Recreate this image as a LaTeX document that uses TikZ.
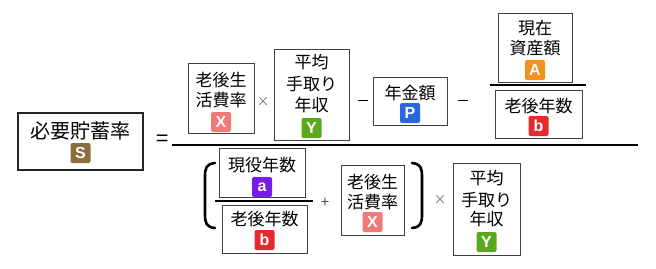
\documentclass[tikz,border=0pt]{standalone}
\usepackage{fontspec}
\newfontfamily\jpfont{Noto Sans CJK JP}
\newfontfamily\badgefont{Liberation Sans}
\usetikzlibrary{calc}

\definecolor{colS}{HTML}{8C6D3F}
\definecolor{colX}{HTML}{F07A78}
\definecolor{colY}{HTML}{5BA81C}
\definecolor{colP}{HTML}{2A66E0}
\definecolor{colA}{HTML}{F3921B}
\definecolor{colb}{HTML}{E52A2F}
\definecolor{cola}{HTML}{7A1CE8}

\tikzset{
  termbox/.style={draw=black!75, line width=0.9pt, fill=white, inner sep=0pt},
  jp/.style={font=\jpfont\fontsize{17}{20}\selectfont, inner sep=0pt},
  badge/.style={fill=#1, rounded corners=2pt, minimum width=20pt, minimum height=20pt,
    inner sep=0pt, text=white, font=\badgefont\bfseries\fontsize{16}{16}\selectfont},
  op/.style={font=\jpfont\fontsize{18}{18}\selectfont, inner sep=0pt},
  smallop/.style={font=\jpfont\fontsize{13}{13}\selectfont, text=black!55, inner sep=0pt},
  minusop/.style={line width=1pt},
  bar/.style={line width=1.5pt},
  mainbar/.style={line width=2pt},
  paren/.style={line width=2.6pt, line cap=round}
}

\begin{document}
\begin{tikzpicture}[x=1pt,y=-1pt]
  \useasboundingbox (0,0) rectangle (656,268);

  % left hand side
  \node[termbox, line width=2pt, draw=black!85, minimum width=125pt, minimum height=57pt] (sbox) at (80.5,141.5) {};
  \node[jp, font=\jpfont\fontsize{20}{22}\selectfont] (stext) at (80.5,131) {必要貯蓄率};
  \node[badge=colS] (sbadge) at (80.5,153) {S};
  \node[op, font=\jpfont\fontsize{22}{22}\selectfont] (eq) at (163,141) {=};

  % main fraction bar
  \coordinate (mainL) at (172,145);
  \coordinate (mainR) at (638,145);
  \draw[mainbar] (mainL) -- (mainR);

  % numerator
  \node[termbox, minimum width=66pt, minimum height=70pt] (xbox) at (221,98) {};
  \node[jp] (x1) at (221,80) {老後生};
  \node[jp] (x2) at (221,100) {活費率};
  \node[badge=colX] (xbadge) at (221,122) {X};

  \node[smallop] (times1) at (263,102) {×};

  \node[termbox, minimum width=75pt, minimum height=91pt] (ybox) at (311.5,94.5) {};
  \node[jp] (y1) at (311.5,62) {平均};
  \node[jp] (y2) at (311.5,84) {手取り};
  \node[jp] (y3) at (311.5,105) {年収};
  \node[badge=colY] (ybadge) at (311.5,128) {Y};

  \coordinate (m1L) at (358,100);
  \coordinate (m1R) at (368,100);
  \draw[minusop] (m1L) -- (m1R);

  \node[termbox, minimum width=74pt, minimum height=48pt] (pbox) at (410,101) {};
  \node[jp] (p1) at (410,93) {年金額};
  \node[badge=colP] (pbadge) at (410,113) {P};

  \coordinate (m2L) at (458,100);
  \coordinate (m2R) at (468,100);
  \draw[minusop] (m2L) -- (m2R);

  \node[termbox, minimum width=74pt, minimum height=69pt] (abox) at (535,47.5) {};
  \node[jp] (a1) at (535,28) {現在};
  \node[jp] (a2) at (535,48) {資産額};
  \node[badge=colA] (abadge) at (535,70) {A};

  \coordinate (abarL) at (490,85);
  \coordinate (abarR) at (586,85);
  \draw[bar] (abarL) -- (abarR);

  \node[termbox, minimum width=87pt, minimum height=48pt] (bbox1) at (538.5,114) {};
  \node[jp] (b1) at (538.5,106) {老後年数};
  \node[badge=colb] (bbadge1) at (538.5,126) {b};

  % denominator
  \coordinate (lpTop) at (215,163);
  \coordinate (lpBot) at (215,228);
  \draw[paren] (lpTop) .. controls (206,164) and (205,168) .. (205,177)
    -- (205,214) .. controls (205,223) and (206,227) .. (lpBot);

  \node[termbox, minimum width=86pt, minimum height=49pt] (rabox) at (262,172.5) {};
  \node[jp] (ra1) at (262,165) {現役年数};
  \node[badge=cola] (rabadge) at (262,187) {a};

  \coordinate (rbarL) at (215,201);
  \coordinate (rbarR) at (313,201);
  \draw[bar] (rbarL) -- (rbarR);

  \node[termbox, minimum width=85pt, minimum height=48pt] (bbox2) at (264.5,229) {};
  \node[jp] (b2) at (264.5,219) {老後年数};
  \node[badge=colb] (bbadge2) at (264.5,240) {b};

  \node[smallop, text=black!70, font=\jpfont\fontsize{15}{15}\selectfont] (plus) at (325,203) {+};

  \node[termbox, minimum width=63pt, minimum height=70pt] (xbox2) at (372.5,200) {};
  \node[jp] (xx1) at (372.5,182) {老後生};
  \node[jp] (xx2) at (372.5,202) {活費率};
  \node[badge=colX] (xbadge2) at (372.5,222) {X};

  \coordinate (rpTop) at (412,163);
  \coordinate (rpBot) at (412,228);
  \draw[paren] (rpTop) .. controls (421,164) and (422,168) .. (422,177)
    -- (422,214) .. controls (422,223) and (421,227) .. (rpBot);

  \node[smallop] (times2) at (440,200) {×};

  \node[termbox, minimum width=67pt, minimum height=92pt] (ybox2) at (486.5,209) {};
  \node[jp] (yy1) at (486.5,178) {平均};
  \node[jp] (yy2) at (486.5,200) {手取り};
  \node[jp] (yy3) at (486.5,219) {年収};
  \node[badge=colY] (ybadge2) at (486.5,242) {Y};
\end{tikzpicture}
\end{document}
